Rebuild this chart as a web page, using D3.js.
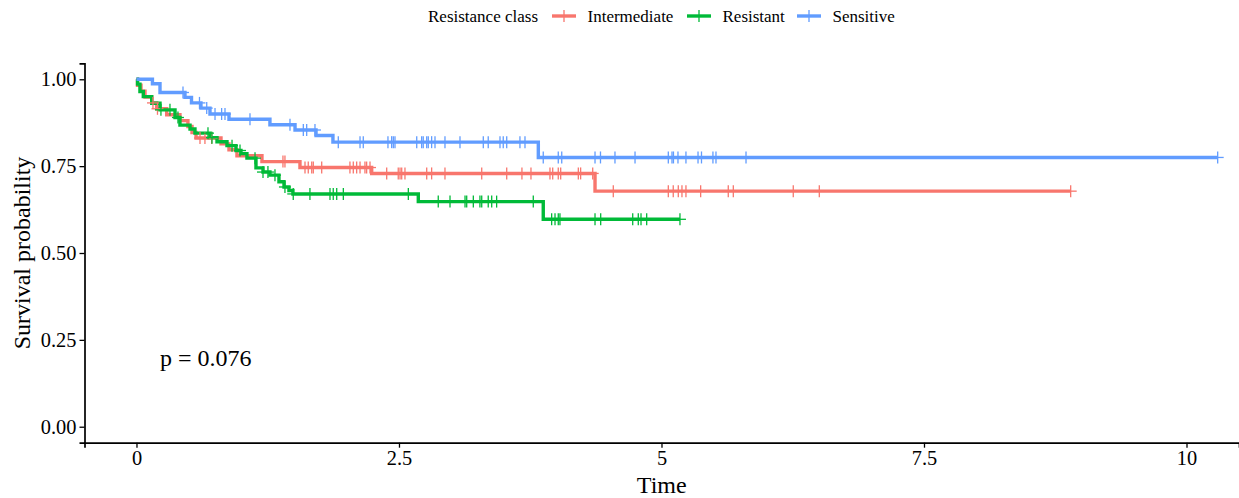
<!DOCTYPE html>
<html>
<head>
<meta charset="utf-8">
<script src="https://cdn.jsdelivr.net/npm/d3@7"></script>
<style>
  html, body { margin: 0; padding: 0; background: #fff; }
  svg text { font-family: "Liberation Serif", "Times New Roman", serif; fill: #000; }
</style>
</head>
<body>
<svg id="chart" width="1239" height="498"></svg>
<script>
// Kaplan–Meier step curves by resistance class (time, survival after each drop)
const classNames = ["Intermediate", "Resistant", "Sensitive"];
const classColors = ["#F8766D", "#00BA38", "#619CFF"];

const intermediateTimes = [0.010, 0.043, 0.081, 0.145, 0.192, 0.288, 0.414, 0.490, 0.529, 0.567, 0.805, 0.881, 0.957, 1.195, 1.557, 2.240, 4.367];
const intermediateSurv  = [0.983, 0.966, 0.949, 0.932, 0.915, 0.898, 0.881, 0.864, 0.847, 0.831, 0.814, 0.797, 0.780, 0.763, 0.746, 0.729, 0.678];
const intermediateCensor = [0.157, 0.200, 0.605, 0.652, 0.716, 1.395, 1.414, 1.605, 1.636, 1.669, 1.684, 1.764,
  2.033, 2.065, 2.097, 2.129, 2.176, 2.192, 2.224, 2.383, 2.493, 2.510, 2.526, 2.557, 2.764, 2.811, 2.938,
  3.288, 3.526, 3.671, 3.757, 3.938, 3.964, 4.017, 4.040, 4.208, 4.230, 4.345, 4.541, 5.065, 5.112, 5.160,
  5.195, 5.233, 5.373, 5.636, 5.684, 6.255, 6.503, 8.897];

const resistantTimes = [0.010, 0.033, 0.065, 0.145, 0.224, 0.367, 0.414, 0.510, 0.557, 0.700, 0.767, 0.862, 0.948, 0.995, 1.052, 1.138, 1.205, 1.271, 1.357, 1.405, 1.452, 1.490, 2.684, 3.874];
const resistantSurv  = [0.986, 0.965, 0.950, 0.931, 0.912, 0.890, 0.868, 0.857, 0.845, 0.832, 0.820, 0.809, 0.795, 0.786, 0.773, 0.745, 0.733, 0.724, 0.705, 0.690, 0.680, 0.670, 0.648, 0.597];
const resistantCensor = [0.233, 0.319, 0.395, 0.681, 0.719, 0.910, 0.986, 1.129, 1.205, 1.252, 1.319, 1.414, 1.493,
  1.652, 1.843, 1.874, 1.907, 1.970, 2.589, 2.874, 2.986, 3.129, 3.145, 3.208, 3.271, 3.288, 3.350, 3.383,
  3.430, 3.779, 3.954, 3.986, 4.017, 4.033, 4.367, 4.421, 4.726, 4.779, 4.805, 4.859, 5.176];

const sensitiveTimes = [0.152, 0.224, 0.462, 0.524, 0.614, 0.700, 0.881, 1.271, 1.510, 1.710, 1.871, 3.827];
const sensitiveSurv  = [0.987, 0.962, 0.948, 0.932, 0.917, 0.900, 0.885, 0.869, 0.854, 0.838, 0.819, 0.775];
const sensitiveCensor = [0.443, 0.600, 0.669, 0.748, 0.811, 0.843, 1.081, 1.462, 1.589, 1.621, 1.700, 1.922, 2.129,
  2.160, 2.395, 2.430, 2.446, 2.462, 2.669, 2.716, 2.731, 2.764, 2.779, 2.811, 2.843, 2.938, 3.081, 3.303,
  3.350, 3.462, 3.493, 3.526, 3.652, 3.700, 3.874, 4.017, 4.050, 4.367, 4.419, 4.557, 4.748, 5.065, 5.100,
  5.114, 5.157, 5.233, 5.348, 5.381, 5.490, 5.519, 5.805, 10.297];

const xTicks = [0, 2.5, 5, 7.5, 10];
const yTicks = [0, 0.25, 0.5, 0.75, 1];
const pValueText = "p = 0.076";

const series = [
  { name: classNames[0], color: classColors[0], times: intermediateTimes, surv: intermediateSurv, censor: intermediateCensor },
  { name: classNames[1], color: classColors[1], times: resistantTimes, surv: resistantSurv, censor: resistantCensor },
  { name: classNames[2], color: classColors[2], times: sensitiveTimes, surv: sensitiveSurv, censor: sensitiveCensor }
];

const svg = d3.select("#chart");

// panel geometry
const panelLeft = 84.5, panelRight = 1239, panelTop = 63.3, panelBottom = 442.7;

const x = d3.scaleLinear().domain([-0.495, 10.5]).range([panelLeft, panelRight]);
const y = d3.scaleLinear().domain([-0.046, 1.046]).range([panelBottom, panelTop]);

// survival value at time t for a step curve
function survAt(s, t) {
  let v = 1;
  for (let i = 0; i < s.times.length; i++) {
    if (s.times[i] <= t) v = s.surv[i]; else break;
  }
  return v;
}

// axes
const yAxis = d3.axisLeft(y).tickValues(yTicks).tickFormat(d3.format(".2f")).tickSizeOuter(0).tickSize(5).tickPadding(3);
const xAxis = d3.axisBottom(x).tickValues(xTicks).tickFormat(d => String(d)).tickSizeOuter(0).tickSize(5).tickPadding(3);

const gy = svg.append("g").attr("transform", `translate(${panelLeft},0)`).call(yAxis);
const gx = svg.append("g").attr("transform", `translate(0,${panelBottom})`).call(xAxis);
[gx, gy].forEach(g => {
  g.select(".domain").attr("stroke", "#000").attr("stroke-width", 1.7);
  g.selectAll(".tick line").attr("stroke", "#000").attr("stroke-width", 1.3);
  g.selectAll(".tick text").attr("font-size", 20.4).attr("font-family", "Liberation Serif, serif").attr("fill", "#000");
});

// curves
const line = d3.line().x(d => x(d[0])).y(d => y(d[1])).curve(d3.curveStepAfter);
const curves = svg.append("g");
series.forEach(s => {
  const end = d3.max(s.censor.concat(s.times));
  const pts = [[0, 1]].concat(s.times.map((t, i) => [t, s.surv[i]]));
  pts.push([end, s.surv[s.surv.length - 1]]);
  curves.append("path")
    .datum(pts)
    .attr("d", line)
    .attr("fill", "none")
    .attr("stroke", s.color)
    .attr("stroke-width", 3.4);
});

// censoring marks
const arm = 6;
series.forEach(s => {
  const g = curves.append("g").attr("stroke", s.color).attr("stroke-width", 1.3);
  s.censor.forEach(t => {
    const cx = x(t), cy = y(survAt(s, t));
    g.append("line").attr("x1", cx).attr("x2", cx).attr("y1", cy - arm).attr("y2", cy + arm);
    g.append("line").attr("x1", cx - arm).attr("x2", cx + arm).attr("y1", cy).attr("y2", cy);
  });
});

// axis titles
svg.append("text")
  .attr("x", (panelLeft + panelRight) / 2).attr("y", 493)
  .attr("text-anchor", "middle").attr("font-size", 24).text("Time");
svg.append("text")
  .attr("transform", `translate(29.5,${(panelTop + panelBottom) / 2}) rotate(-90)`)
  .attr("text-anchor", "middle").attr("font-size", 24).text("Survival probability");

// p-value annotation
svg.append("text")
  .attr("x", x(0.224)).attr("y", y(0.2)).attr("dy", "0.35em")
  .attr("font-size", 24).text(pValueText);

// legend
const legend = svg.append("g").attr("transform", "translate(0,16)");
legend.append("text").attr("x", 428).attr("dy", "0.35em").attr("font-size", 17).text("Resistance class");
const keyX = [552, 687, 797];
series.forEach((s, i) => {
  const g = legend.append("g").attr("transform", `translate(${keyX[i]},0)`);
  g.append("line").attr("x1", 0).attr("x2", 24).attr("stroke", s.color).attr("stroke-width", 3.4);
  g.append("line").attr("x1", 12).attr("x2", 12).attr("y1", -6).attr("y2", 6).attr("stroke", s.color).attr("stroke-width", 1.3);
  g.append("text").attr("x", 35.5).attr("dy", "0.35em").attr("font-size", 17).text(s.name);
});
</script>
</body>
</html>
